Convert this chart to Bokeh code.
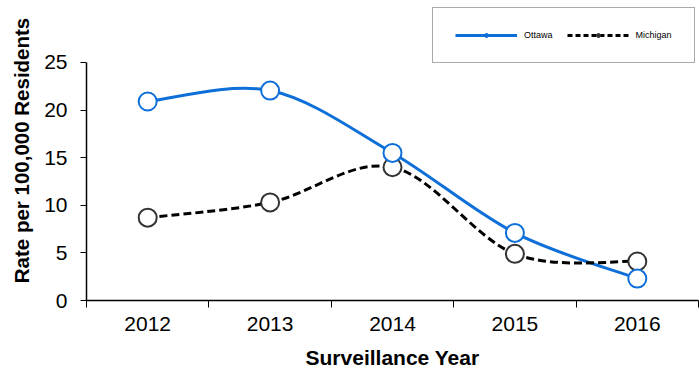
from bokeh.plotting import figure
from bokeh.models import (ColumnDataSource, FixedTicker, Legend, LegendItem, Range1d)
from bokeh.embed import file_html
from bokeh.resources import INLINE

years = ["2012", "2013", "2014", "2015", "2016"]
ottawa = [20.9, 22.05, 15.5, 7.1, 2.3]
michigan = [8.7, 10.3, 14.0, 4.9, 4.1]
y_ticks = [0, 5, 10, 15, 20, 25]

xpos = list(range(1, len(years) + 1))

FONT = "Liberation Sans"
BLUE = "#0f6fd8"

p = figure(width=699, height=371, output_backend="svg", toolbar_location=None,
           title=None,
           x_range=Range1d(0.5, 5.5), y_range=Range1d(0, 31.51),
           min_border_left=86, min_border_right=1, min_border_top=0, min_border_bottom=71)
p.outline_line_color = None
p.xgrid.grid_line_color = None
p.ygrid.grid_line_color = None


def bezier_source(xs, ys):
    n = len(xs)
    d = dict(x0=[], y0=[], x1=[], y1=[], cx0=[], cy0=[], cx1=[], cy1=[])
    for i in range(n - 1):
        p0 = (xs[max(i - 1, 0)], ys[max(i - 1, 0)])
        p1 = (xs[i], ys[i])
        p2 = (xs[i + 1], ys[i + 1])
        p3 = (xs[min(i + 2, n - 1)], ys[min(i + 2, n - 1)])
        d["x0"].append(p1[0]); d["y0"].append(p1[1])
        d["x1"].append(p2[0]); d["y1"].append(p2[1])
        d["cx0"].append(p1[0] + (p2[0] - p0[0]) / 6)
        d["cy0"].append(p1[1] + (p2[1] - p0[1]) / 6)
        d["cx1"].append(p2[0] - (p3[0] - p1[0]) / 6)
        d["cy1"].append(p2[1] - (p3[1] - p1[1]) / 6)
    return ColumnDataSource(d)


src_o = ColumnDataSource(dict(x=xpos, y=ottawa))
src_m = ColumnDataSource(dict(x=xpos, y=michigan))

p.bezier("x0", "y0", "x1", "y1", "cx0", "cy0", "cx1", "cy1",
         source=bezier_source(xpos, ottawa), line_color=BLUE, line_width=3)
p.bezier("x0", "y0", "x1", "y1", "cx0", "cy0", "cx1", "cy1",
         source=bezier_source(xpos, michigan), line_color="black", line_width=3,
         line_dash="8 4")

# legend proxies: single-point lines (draw nothing) and small dots hidden under markers
lo = p.line(x=xpos[:1], y=ottawa[:1], line_color=BLUE, line_width=3)
lm = p.line(x=xpos[:1], y=michigan[:1], line_color="black", line_width=3, line_dash="5 3")
do = p.scatter("x", "y", source=src_o, size=4, fill_color=BLUE, line_color=BLUE)
dm = p.scatter("x", "y", source=src_m, size=4, fill_color="#333333", line_color="#333333")

p.scatter("x", "y", source=src_m, size=18, fill_color="white", line_color="#333333", line_width=2)
p.scatter("x", "y", source=src_o, size=18, fill_color="white", line_color=BLUE, line_width=2)

legend = Legend(items=[LegendItem(label="Ottawa", renderers=[lo, do]),
                       LegendItem(label="Michigan", renderers=[lm, dm])],
                orientation="horizontal", location=(346, 237),
                label_text_font=FONT, label_text_font_size="9px",
                label_text_color="black",
                glyph_width=62, glyph_height=10, label_standoff=7, spacing=14,
                padding=22, margin=0,
                border_line_color="#555555", border_line_width=1,
                background_fill_color="white")
p.add_layout(legend, "center")

# x axis
xa = p.xaxis[0]
xa.ticker = FixedTicker(ticks=xpos, minor_ticks=[0.5, 1.5, 2.5, 3.5, 4.5, 5.5])
xa.major_label_overrides = {i: y for i, y in zip(xpos, years)}
xa.major_tick_line_color = None
xa.major_tick_out = 0
xa.major_tick_in = 0
xa.minor_tick_out = 7
xa.minor_tick_in = 0
xa.minor_tick_line_color = "black"
xa.axis_line_color = "black"
xa.axis_line_width = 1.5
xa.major_label_text_font = FONT
xa.major_label_text_font_size = "21px"
xa.major_label_text_color = "black"
xa.major_label_standoff = 9
xa.axis_label = "Surveillance Year"
xa.axis_label_text_font = FONT
xa.axis_label_text_font_style = "bold"
xa.axis_label_text_font_size = "21px"
xa.axis_label_text_color = "black"
xa.axis_label_standoff = 12

ya = p.yaxis[0]
ya.ticker = FixedTicker(ticks=y_ticks)
ya.bounds = (0, 25)
ya.minor_tick_line_color = None
ya.major_tick_out = 6
ya.major_tick_in = 0
ya.axis_line_color = "black"
ya.axis_line_width = 1.5
ya.major_label_text_font = FONT
ya.major_label_text_font_size = "21px"
ya.major_label_text_color = "black"
ya.major_label_standoff = 13
ya.axis_label = "Rate per 100,000 Residents"
ya.axis_label_text_font = FONT
ya.axis_label_text_font_style = "bold"
ya.axis_label_text_font_size = "20.5px"
ya.axis_label_text_color = "black"
ya.axis_label_standoff = 8

open("out.html", "w").write(file_html(p, INLINE))
